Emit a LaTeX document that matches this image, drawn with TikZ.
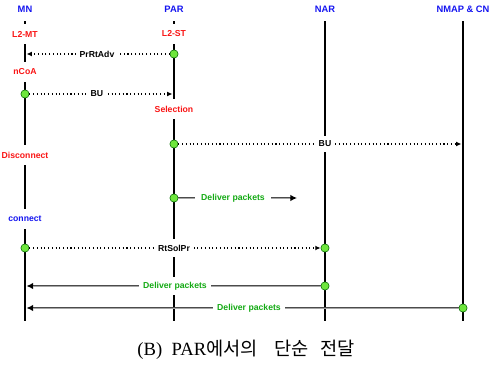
\documentclass[tikz,border=0pt]{standalone}
\usepackage{fontspec}
\setmainfont{Liberation Serif}
\setsansfont{Liberation Sans}
\newfontfamily\krfont{Noto Sans CJK KR}
\usetikzlibrary{arrows.meta}

\definecolor{hdrblue}{RGB}{20,20,240}
\definecolor{evtred}{RGB}{250,20,20}
\definecolor{pktgreen}{RGB}{20,170,20}
\definecolor{dotfill}{RGB}{110,230,60}

\tikzset{every picture/.style={line width=0.75pt}}
\tikzset{
	life/.style={line width=1.7pt},
	hdr/.style={text=hdrblue, font=\sffamily\bfseries\fontsize{7}{8}\selectfont},
	evt/.style={text=evtred, fill=white, inner xsep=1pt, inner ysep=5pt, font=\sffamily\bfseries\fontsize{6.5}{7}\selectfont},
	lbl/.style={fill=white, inner xsep=3pt, inner ysep=2pt, font=\sffamily\bfseries\fontsize{6.5}{7}\selectfont},
	pktlbl/.style={lbl, text=pktgreen},
	dot/.style={circle, draw=green!40!black, fill=dotfill, line width=0.4pt, inner sep=0pt, minimum size=6.2pt},
	msg/.style={dotted, line width=0.8pt, -{Latex[length=4pt,width=3.6pt]}},
	pkt/.style={draw=black!70, line width=1.8pt, -{Latex[length=5pt,width=5pt,color=black]},
		postaction={draw=black!35, line width=0.5pt, -, shorten >=5pt}}
}

\begin{document}
\begin{tikzpicture}[x=0.75pt,y=0.75pt,yscale=-1,xscale=1]
	\useasboundingbox (0,0) rectangle (490,368);

	% Headers
	\node[hdr] (hMN) at (25,9) {MN};
	\node[hdr] (hPAR) at (174,9) {PAR};
	\node[hdr] (hNAR) at (325,9) {NAR};
	\node[hdr] (hCN) at (463,9) {NMAP \& CN};

	% Lifelines
	\coordinate (mnT) at (25,21);   \coordinate (mnB) at (25,321);
	\coordinate (parT) at (174,21); \coordinate (parB) at (174,321);
	\coordinate (narT) at (325,21); \coordinate (narB) at (325,321);
	\coordinate (cnT) at (463,21);  \coordinate (cnB) at (463,321);
	\draw[life] (mnT) -- (mnB);
	\draw[life] (parT) -- (parB);
	\draw[life] (narT) -- (narB);
	\draw[life] (cnT) -- (cnB);

	% Events on the lifelines
	\node[evt] (l2mt) at (25,34) {L2-MT};
	\node[evt] (l2st) at (174,34) {L2-ST};
	\node[evt] (ncoa) at (25,72) {nCoA};
	\node[evt] (sel) at (174,109) {Selection};
	\node[evt] (disc) at (25,155) {Disconnect};
	\node[evt, text=hdrblue] (conn) at (25,219) {connect};

	% Message start/end points
	\node[dot] (par1) at (174,54) {};
	\node[dot] (mn2) at (25,94) {};
	\node[dot] (par3) at (174,144) {};
	\node[dot] (par4) at (174,198) {};
	\node[dot] (mn5) at (25,248) {};
	\node[dot] (nar5) at (325,248) {};
	\node[dot] (nar6) at (325,286) {};
	\node[dot] (cn7) at (463,308) {};
	\coordinate (mn1) at (26.5,54);
	\coordinate (par2) at (172.5,94);
	\coordinate (cn3) at (461.5,144);
	\coordinate (end4) at (297,198);
	\coordinate (mn6) at (26.5,286);
	\coordinate (mn7) at (26.5,308);

	% Messages
	\draw[msg] (par1) -- (mn1);
	\draw[msg] (mn2) -- (par2);
	\draw[msg] (par3) -- (cn3);
	\draw[pkt] (par4) -- (end4);
	\draw[msg] (mn5) -- (nar5);
	\draw[pkt] (nar6) -- (mn6);
	\draw[pkt] (cn7) -- (mn7);

	% Text Node
	\node[lbl] (tPrRtAdv) at (97,54) {PrRtAdv};
	\node[lbl] (tBU1) at (97,94) {BU};
	\node[lbl, inner ysep=4pt] (tBU2) at (325,144) {BU};
	\node[pktlbl, inner xsep=5pt] (tPkt1) at (233,198) {Deliver packets};
	\node[lbl, inner ysep=4pt] (tRtSolPr) at (174,248) {RtSolPr};
	\node[pktlbl, inner ysep=4pt] (tPkt2) at (175,286) {Deliver packets};
	\node[pktlbl] (tPkt3) at (249,308) {Deliver packets};

	% Caption
	\node[font=\fontsize{14}{16}\selectfont] (cap) at (246,350) {(B)\ \ PAR{\krfont 에서의}\hspace{0.9em}{\krfont 단순}\hspace{0.6em}{\krfont 전달}};
\end{tikzpicture}
\end{document}
